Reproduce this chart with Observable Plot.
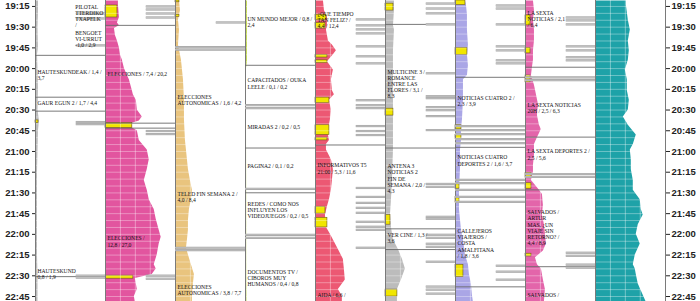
<!DOCTYPE html>
<html><head><meta charset="utf-8">
<script src="https://cdn.jsdelivr.net/npm/d3@7"></script>
<script src="https://cdn.jsdelivr.net/npm/@observablehq/plot@0.6"></script>
<style>html,body{margin:0;padding:0;background:#fff;overflow:hidden}</style>
</head><body><div id="chart"></div>
<script>
// Times are minutes after 19:00. Share values in chart units.
const channels = ["ETB1","ETB2","La 1","La 2","Telecinco","Antena 3","Cuatro","La Sexta","Otras"];
const tickMinutes = [15,30,45,60,75,90,105,120,135,150,165,180,195,210,225];
const tickLabels = ["19:15","19:30","19:45","20:00","20:15","20:30","20:45","21:00","21:15","21:30","21:45","22:00","22:15","22:30","22:45"];

// audience curves [minute, value]
const etb1Share = [[11,3],[20,3],[30,2.5],[45,3],[50,2],[60,2.5],[75,3],[90,2.5],[98,4],[105,3],[120,2.5],[135,2],[150,2],[165,2],[180,2],[195,2],[210,2.5],[229,2.5]];
const etb2Share = [[11,13],[14,13],[23,14],[27,12],[29,14],[31,9],[36,10],[40,12],[45,14],[50,15],[54,17],[60,19],[65,22],[68,24],[76,27],[79,28],[83,31],[90,32],[95,37],[98,34],[99.5,27],[103,27],[105,32],[112,34],[119,42],[126,44],[133,42],[141,39],[148,42],[155,44],[162,49],[169,51],[177,54],[182,56],[187,54],[195,52],[202,49],[205,51],[209,47],[212,30],[216,31],[220,32],[225,29],[229,30]];
const la1Share = [[11,4],[18,5],[25,3],[32,4],[43,3],[54,6],[68,8],[83,9],[97,9],[112,10],[119,11],[126,12],[133,13],[141,15],[148,17],[155,16],[162,14],[170,13],[177,13],[184,12],[190,11],[195,13],[202,16],[209,19],[216,18],[224,17],[229,17]];
const la2Share = [[11,2],[30,2],[55,2],[60,1],[100,1],[150,1.2],[200,1.2],[229,1.5]];
const t5Share = [[11,8],[18,9],[23,12],[29,12],[32,11],[40,13],[43,17],[47,21],[50,18],[55,12],[61,18],[68,16],[76,17],[79,19],[83,14],[90,16],[97,15],[101,14],[108,13],[112,14],[115,11],[119,11],[126,16],[133,18],[141,17],[148,16],[155,14],[160,12],[166,10],[175,11],[180,15],[184,18],[191,23],[198,28],[205,29],[213,30],[220,23],[225,27],[229,27]];
const a3Share = [[11,9],[18,9],[29,8],[32,9],[47,8],[61,8],[83,8],[97,8],[112,8],[119,8],[141,7],[155,6],[166,5],[175,6],[184,8],[191,13],[198,17],[205,20],[213,16],[220,12],[225,12],[229,12]];
const cuatroShare = [[11,10],[14,11],[21,12],[32,12],[43,13],[50,12],[58,13],[65,12],[68,8],[83,8],[97,7],[104,6],[112,6],[119,5],[133,5],[148,4],[162,4],[177,6],[184,8],[195,10],[202,13],[209,14],[216,16],[224,17],[229,18]];
const sextaShare = [[11,8],[18,9],[25,8],[32,9],[40,9],[47,8],[54,8],[59,7],[65,6],[72,9],[79,11],[86,13],[94,12],[101,14],[104,16],[110,12],[115,9],[123,9],[130,8],[135,8],[141,6],[148,14],[151,17],[159,18],[166,17],[173,19],[180,20],[187,21],[192,18],[197,10],[202,12],[205,16],[213,18],[220,20],[229,19]];
const otrasShare = [[11,31],[14,31],[25,33],[32,35],[40,33],[47,34],[54,33],[61,30],[68,32],[76,32],[83,34],[90,33],[95,28],[101,33],[108,41],[115,38],[119,35],[126,36],[133,36],[141,38],[148,38],[155,45],[162,46],[166,48],[173,43],[180,41],[187,45],[195,40],[202,38],[205,40],[209,41],[216,43],[224,48],[229,51]];

// commercial blocks [start, end, width]
const etb1Yellow = [[97.5,99.5,3]];
const etb2Yellow = [[14.3,23,12],[99.5,103.1,27],[209.9,212.1,28]];
const la1Yellow = [[10.7,12,4],[21,22.5,4]];
const la2Yellow = [];
const t5Yellow = [[21,25,11],[27,31,10],[50,52,12],[54,56,12],[81,85,14],[101,108,14],[110,112,12],[160,165,10],[168,175,12]];
const a3Yellow = [[13,18,8],[89,94,8],[166,173,5],[220,225,12]];
const cuatroYellow = [[10.7,14,10],[45,50,12],[101,104,6],[108,111,6],[143.5,147,4],[153,157,4],[202,211,8]];
const sextaYellow = [[21.5,28.7,5],[45,49,5],[65,70,5],[135.5,139,6],[143,147,6],[194,196,6]];
const otrasYellow = [];

// program changes (minute)
const etb1Cuts = [50.4,80.7,90.8,210.6];
const etb2Cuts = [28.7,99.5,103.1];
const la1Cuts = [];
const la2Cuts = [57.6,117.5,149.9];
const t5Cuts = [115.3];
const a3Cuts = [28,117.5,176,191];
const cuatroCuts = [66.3,117,218];
const sextaCuts = [59,109.6,147.8,203.4];
const otrasCuts = [];

// advertising spots (minute)
const etb1Spots = [20.1,23.7,43.2,98.7,100.2,209.9,211.3];
const etb2Spots = [15,17.2,20.1,23,105.2,107.4,209.9,212.1];
const la1Spots = [26.6];
const la2Spots = [];
const t5Spots = [24.4,28.7,31.6,34.5,43.9,51.1,56.2,82.9,86.5,88.6,101.6,105.2,108.1,146.4,152.9,157.2,160.8,164.4,170.9,174.5,176.7,189.7];
const a3Spots = [12.9,16.5,20,28,63.4,80,81.4,87.9,90.1,94.4,104.5,143.5,145.6,167.3,168.7,180.3,182.5,186.8,189,199.8,217.8,220,222.9];
const cuatroSpots = [14.3,16.5,28,43.9,46.8,54,56.2,202.7,207,212.8];
const sextaSpots = [23,25.1,28,43.9,46.8,51.8,54,193.3,195.5,201.9,204.1];
const otrasSpots = [];

// breaks across full column (minute)
const etb1Bands = [];
const etb2Bands = [];
const la1Bands = [44.5,46.3,189.7,191.4];
const la2Bands = [86.5,88.6,147,180.3,182.5];
const t5Bands = [];
const a3Bands = [];
const cuatroBands = [101.6,104.5,107.4,111,113.9,140.6,142.9,147.8,152.9,156.5];
const sextaBands = [66.3,68.4,136.3,138.4];
const otrasBands = [];

// program labels [minute, text]
const etb1Labels = [[15.8,"PILOTAL\nTTERDIKO\nTXAPELK\n/"],[34.5,"BENGOET\nVI-URRUT\n-1,0 / 2,9"],[62.7,"HAUTESKUNDEAK / 1,4 /\n3,7"],[85,"GAUR EGUN 2 / 1,7 / 4,4"],[207,"HAUTESKUND\n0,8 / 1,9"]];
const etb2Labels = [[64,"ELECCIONES / 7,4 / 20,2"],[183.4,"ELECCIONES /\n12,8 / 27,0"]];
const la1Labels = [[80.7,"ELECCIONES\nAUTONOMICAS / 1,6 / 4,2"],[151.4,"TELED FIN SEMANA 2 /\n4,0 / 8,4"],[218.5,"ELECCIONES\nAUTONOMICAS / 3,8 / 7,7"]];
const la2Labels = [[24.4,"UN MUNDO MEJOR / 0,8 /\n2,4"],[69,"CAPACITADOS / OUKA\nLEELE / 0,1 / 0,2"],[103,"MIRADAS 2 / 0,2 / 0,5"],[131,"PAGINA2 / 0,1 / 0,2"],[158.6,"REDES / COMO NOS\nINFLUYEN LOS\nVIDEOJUEGOS / 0,2 / 0,5"],[207.7,"DOCUMENTOS TV /\nCIBOROS MUY\nHUMANOS / 0,4 / 0,8"]];
const t5Labels = [[20.8,"¿QUE TIEMPO\nTAN FELIZ? /\n4,4 / 12,4"],[130.5,"INFORMATIVOS T5\n21:00 / 5,3 / 11,6"],[224.5,"AIDA / 6,6 /"]];
const a3Labels = [[62.7,"MULTICINE 3 /\nROMANCE\nENTRE LAS\nFLORES / 3,1 /\n8,3"],[131.2,"ANTENA 3\nNOTICIAS 2\nFIN DE\nSEMANA / 2,0 /\n4,3"],[181,"VER CINE / 1,3 /\n3,6"]];
const cuatroLabels = [[81.4,"NOTICIAS CUATRO 2 /\n2,3 / 3,9"],[124.7,"NOTICIAS CUATRO\nDEPORTES 2 / 1,6 / 3,7"],[178.1,"CALLEJEROS\nVIAJEROS /\nCOSTA\nAMALFITANA\n/ 1,8 / 3,6"]];
const sextaLabels = [[20.1,"LA SEXTA\nNOTICIAS / 2,1\n/ 6,4"],[86.5,"LA SEXTA NOTICIAS\n20H / 2,5 / 6,3"],[120.4,"LA SEXTA DEPORTES 2 /\n2,5 / 5,6"],[164.4,"SALVADOS /\nARTUR\nMAS, ¿UN\nVIAJE SIN\nRETORNO? /\n4,4 / 8,9"],[224,"SALVADOS /"]];
const otrasLabels = [];

// ---- build tables ----
const shares = [etb1Share,etb2Share,la1Share,la2Share,t5Share,a3Share,cuatroShare,sextaShare,otrasShare];
const yellows = [etb1Yellow,etb2Yellow,la1Yellow,la2Yellow,t5Yellow,a3Yellow,cuatroYellow,sextaYellow,otrasYellow];
const cuts = [etb1Cuts,etb2Cuts,la1Cuts,la2Cuts,t5Cuts,a3Cuts,cuatroCuts,sextaCuts,otrasCuts];
const spots = [etb1Spots,etb2Spots,la1Spots,la2Spots,t5Spots,a3Spots,cuatroSpots,sextaSpots,otrasSpots];
const bands = [etb1Bands,etb2Bands,la1Bands,la2Bands,t5Bands,a3Bands,cuatroBands,sextaBands,otrasBands];
const labels = [etb1Labels,etb2Labels,la1Labels,la2Labels,t5Labels,a3Labels,cuatroLabels,sextaLabels,otrasLabels];

const colors = ["#bcbcbc","#e2559f","#e9c47e","#c6dc5c","#ec5873","#bcbcbc","#aaa6e6","#e365aa","#1ea2a8"];
const XMAX = 70.4, SPOT_X = 41;

const shareRows = channels.flatMap((ch,i)=>shares[i].map(([t,v])=>({ch,t,v})));
const yellowRows = channels.flatMap((ch,i)=>yellows[i].map(([s,e,w])=>({ch,s,e,w})));
const cutRows = channels.flatMap((ch,i)=>cuts[i].map(t=>({ch,t})));
const spotRows = channels.flatMap((ch,i)=>spots[i].map(t=>({ch,t})));
const bandRows = channels.flatMap((ch,i)=>bands[i].map(t=>({ch,t})));
const labelRows = channels.flatMap((ch,i)=>labels[i].map(([t,text])=>({ch,t,text,
  x: (ch==="ETB1" && t<45) ? 40 : 2})));

const fmt = d => tickLabels[tickMinutes.indexOf(d)];
const gridMinutes = d3.range(15,229,5);

const plot = Plot.plot({
  width:700, height:301, marginLeft:33, marginRight:33, marginTop:0, marginBottom:0,
  fx:{domain:channels, padding:0, axis:null},
  x:{domain:[0,XMAX], axis:null},
  y:{domain:[10.7,228.6], reverse:true, axis:null},
  color:{domain:channels, range:colors},
  style:{fontFamily:"Liberation Sans", background:"#fff"},
  marks:[
    Plot.areaX(shareRows,{fx:"ch", y:"t", x:"v", fill:"ch"}),
    Plot.rect(yellowRows,{fx:"ch", x1:()=>0, x2:"w", y1:"s", y2:"e", fill:"#f1e600", stroke:"#6e5a1c", strokeWidth:0.6}),
    Plot.ruleX([15,30,45],{stroke:"#fff", strokeOpacity:0.55, strokeWidth:0.7}),
    Plot.ruleY(gridMinutes,{stroke:"#fff", strokeOpacity:0.5, strokeWidth:0.7}),
    Plot.ruleX([0],{stroke:"#7a7a7a", strokeWidth:1}),
    Plot.ruleX([{ch:"Otras"}],{fx:"ch", x:()=>XMAX, stroke:"#7a7a7a", strokeWidth:1}),
    Plot.ruleY(cutRows,{fx:"ch", y:"t", x1:()=>0, x2:()=>XMAX, stroke:"#6a6a6a", strokeWidth:0.9}),
    Plot.ruleY(bandRows,{fx:"ch", y:"t", x1:()=>0, x2:()=>XMAX, stroke:"#a2a2a2", strokeWidth:2.2}),
    Plot.ruleY(bandRows,{fx:"ch", y:"t", x1:()=>0, x2:()=>XMAX, stroke:"#dadada", strokeWidth:0.6}),
    Plot.ruleY(spotRows,{fx:"ch", y:"t", x1:()=>SPOT_X, x2:()=>XMAX, stroke:"#a2a2a2", strokeWidth:2.2}),
    Plot.ruleY(spotRows,{fx:"ch", y:"t", x1:()=>SPOT_X, x2:()=>XMAX, stroke:"#dadada", strokeWidth:0.6}),
    Plot.text(labelRows,{fx:"ch", x:"x", y:"t", text:"text", textAnchor:"start", lineAnchor:"top", dy:-3,
      fontSize:5.6, lineHeight:1.1, fontFamily:"Liberation Serif", fill:"#111", clip:true}),
    Plot.axisY(tickMinutes,{anchor:"left", tickFormat:fmt, tickSize:3, tickPadding:3, fontSize:9.5, fontWeight:"bold", color:"#222"}),
    Plot.axisY(tickMinutes,{anchor:"right", tickFormat:fmt, tickSize:4, tickPadding:2, fontSize:9.5, fontWeight:"bold", color:"#222"})
  ]
});
document.getElementById("chart").appendChild(plot);
</script>
</body></html>
